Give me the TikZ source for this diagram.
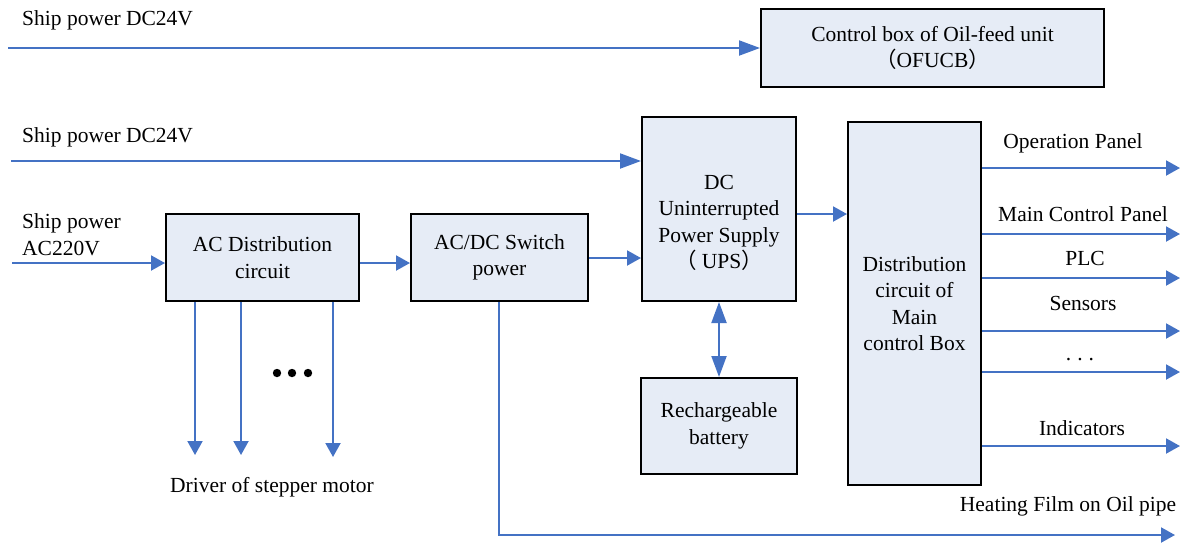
\documentclass[tikz,border=0pt]{standalone}
\usepackage{fontspec}
\setmainfont{Liberation Serif}
\newfontfamily\cjk{Noto Sans CJK SC}
\usetikzlibrary{arrows.meta}
\definecolor{lineblue}{HTML}{4472C4}
\definecolor{boxfill}{HTML}{E6ECF6}
\begin{document}
\begin{tikzpicture}[x=1pt,y=-1pt,
  box/.style={draw=black,line width=2pt,fill=boxfill,inner sep=0pt},
  txt/.style={font=\fontsize{21.5}{26.5}\selectfont,align=center,inner sep=0pt},
  arr/.style={draw=lineblue,line width=2pt,-{Triangle[length=14pt,width=15pt]}},
  arrl/.style={draw=lineblue,line width=2pt,-{Triangle[length=21pt,width=15pt]}},
  both/.style={draw=lineblue,line width=2pt,{Triangle[length=21pt,width=15pt]}-{Triangle[length=21pt,width=15pt]}},
]
\useasboundingbox (0,0) rectangle (1188,542);

% boxes
\node[box,txt,minimum width=343pt,minimum height=78pt] (ofucb) at (932.5,48)
  {Control box of Oil-feed unit\\{\cjk （}OFUCB{\cjk ）}};
\node[box,minimum width=154pt,minimum height=184pt] (ups) at (719,209) {};
\node[txt] (upst) at (719,223) {DC\\Uninterrupted\\Power Supply\\{\cjk （} UPS{\cjk ）}};
\node[box,txt,minimum width=193pt,minimum height=87pt] (acd) at (262.5,257.5) {AC Distribution\\circuit};
\node[box,txt,minimum width=177pt,minimum height=87pt] (acdc) at (499.5,257.5) {AC/DC Switch\\power};
\node[box,txt,minimum width=133pt,minimum height=363pt] (dist) at (914.5,303.5) {Distribution\\circuit of\\Main\\control Box};
\node[box,txt,minimum width=156pt,minimum height=96pt] (bat) at (719,426) {Rechargeable\\battery};

% input labels
\node[txt,anchor=west] (l1) at (22,20) {Ship power DC24V};
\node[txt,anchor=west] (l2) at (22,137) {Ship power DC24V};
\node[txt,anchor=west,align=left] (l3) at (22,234.5) {Ship power\\AC220V};

% input coordinates
\coordinate (in1) at (8,48);
\coordinate (in2) at (11,161);
\coordinate (in3) at (12,263);
\coordinate (mid1) at (0,214);
\coordinate (mid2) at (0,258);

\draw[arrl] (in1) -- (in1 -| ofucb.west);
\draw[arrl] (in2) -- (in2 -| ups.west);
\draw[arr] (in3) -- (in3 -| acd.west);
\draw[arr] (acd.east |- in3) -- (acdc.west |- in3);
\draw[arr] (acdc.east |- mid2) -- (ups.west |- mid2);
\draw[arr] (ups.east |- mid1) -- (dist.west |- mid1);
\draw[both] (ups.south) -- (bat.north);

% outputs of distribution box
\coordinate (o1) at (1180,168);
\coordinate (o2) at (1180,234);
\coordinate (o3) at (1180,278);
\coordinate (o4) at (1180,331);
\coordinate (o5) at (1180,372);
\coordinate (o6) at (1180,446);
\foreach \o in {o1,o2,o3,o4,o5,o6} \draw[arr] (\o -| dist.east) -- (\o);

\node[txt] (t1) at (1073,143) {Operation Panel};
\node[txt] (t2) at (1083,214) {Main Control Panel};
\node[txt] (t3) at (1085,258) {PLC};
\node[txt] (t4) at (1083,303) {Sensors};
\node[txt,anchor=base] (t5) at (1080,360) {.\hspace{6pt}.\hspace{6pt}.};
\node[txt] (t6) at (1082,428) {Indicators};

% heating film
\coordinate (hf) at (1175,535);
\coordinate (hd) at (499,0);
\draw[arr] (hd |- acdc.south) |- (hf);
\node[txt] (t7) at (1068,506) {Heating Film on Oil pipe};

% stepper drivers
\coordinate (d1) at (195,455);
\coordinate (d2) at (241,455);
\coordinate (d3) at (333,457);
\foreach \d in {d1,d2,d3} \draw[arr] (\d |- acd.south) -- (\d);
\foreach \x in {277,292,308} \fill (\x,373) circle (4.2pt);
\node[txt] (t8) at (272,487) {Driver of stepper motor};
\end{tikzpicture}
\end{document}
